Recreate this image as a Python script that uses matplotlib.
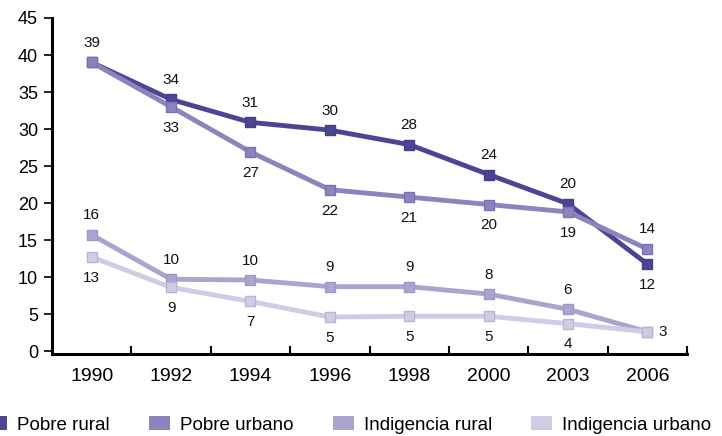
import matplotlib
matplotlib.use("Agg")
import matplotlib.pyplot as plt
from matplotlib.patches import Patch

plt.rcParams['font.family'] = ['Liberation Sans', 'DejaVu Sans']

years = ['1990', '1992', '1994', '1996', '1998', '2000', '2003', '2006']
names = ['Pobre rural', 'Pobre urbano', 'Indigencia rural', 'Indigencia urbano']

# values (labels are the rounded figures printed on it)
pobre_rural = [39.0, 34.0, 30.9, 29.85, 27.9, 23.85, 19.9, 11.75]
pobre_urbano = [39.0, 33.0, 26.9, 21.8, 20.8, 19.8, 18.8, 13.8]
indig_rural = [15.7, 9.7, 9.6, 8.7, 8.7, 7.7, 5.65, 2.6]
indig_urbano = [12.7, 8.6, 6.7, 4.6, 4.7, 4.7, 3.7, 2.6]

lab_pobre_rural = [39, 34, 31, 30, 28, 24, 20, 12]
lab_pobre_urbano = [None, 33, 27, 22, 21, 20, 19, 14]
lab_indig_rural = [16, 10, 10, 9, 9, 8, 6, 3]
lab_indig_urbano = [13, 9, 7, 5, 5, 5, 4, None]

# where each label goes: 'a' above, 'b' below, 'r' right
pos_pobre_rural = ['a', 'a', 'a', 'a', 'a', 'a', 'a', 'b']
pos_pobre_urbano = ['b', 'b', 'b', 'b', 'b', 'b', 'b', 'a']
pos_indig_rural = ['a', 'a', 'a', 'a', 'a', 'a', 'a', 'r']
pos_indig_urbano = ['b', 'b', 'b', 'b', 'b', 'b', 'b', 'b']

colors = ['#4b4594', '#8b84bd', '#aaa5d0', '#d0cce6']
edges = ['#453f8c', '#7a72b3', '#9d97c8', '#b9b4d8']

series = [pobre_rural, pobre_urbano, indig_rural, indig_urbano]
labels = [lab_pobre_rural, lab_pobre_urbano, lab_indig_rural, lab_indig_urbano]
positions = [pos_pobre_rural, pos_pobre_urbano, pos_indig_rural, pos_indig_urbano]

fig = plt.figure(figsize=(7.22, 4.36), dpi=100)
ax = fig.add_axes([52/722, 82/436, 635/722, 336/436])

x = list(range(len(years)))
for vals, labs, poss, c, ec in zip(series, labels, positions, colors, edges):
    ax.plot(x, vals, color=c, lw=3.5, marker='s', ms=7.8, mfc=c, mec=ec, mew=1.0,
            solid_joinstyle='miter', clip_on=False)
    for xi, v, lab, p in zip(x, vals, labs, poss):
        if lab is None:
            continue
        if p == 'a':
            off, ha = (0, 14), 'center'
        elif p == 'b':
            off, ha = (0, -15), 'center'
        else:
            off, ha = (8, 0), 'left'
        ax.annotate(str(lab), (xi, v), xytext=off, textcoords='offset points',
                    ha=ha, va='center', fontsize=11, color='#111111')

ax.set_xlim(-0.5, 7.5)
ax.set_ylim(-0.4, 45)
ax.set_yticks(range(0, 46, 5))
ax.set_xticks(x)
ax.set_xticklabels(years)
ax.set_xticks([i + 0.5 for i in x], minor=True)

for s in ['top', 'right']:
    ax.spines[s].set_visible(False)
for s in ['left', 'bottom']:
    ax.spines[s].set_linewidth(2.2)
    ax.spines[s].set_color('black')

ax.tick_params(axis='y', direction='out', length=6, width=1.2, labelsize=13, pad=4)
ax.tick_params(axis='x', which='major', length=0, labelsize=14, pad=10)
ax.tick_params(axis='x', which='minor', direction='in', length=6, width=1.5)

handles = [Patch(facecolor=c, edgecolor='none') for c in colors]
fig.legend(handles, names, loc='center left', bbox_to_anchor=(-14/722, 11/436),
           ncol=4, frameon=False, fontsize=13.5, handlelength=1.12, handleheight=0.75,
           handletextpad=0.53, columnspacing=2.1, borderpad=0, borderaxespad=0)

fig.savefig('out.png', dpi=100)
